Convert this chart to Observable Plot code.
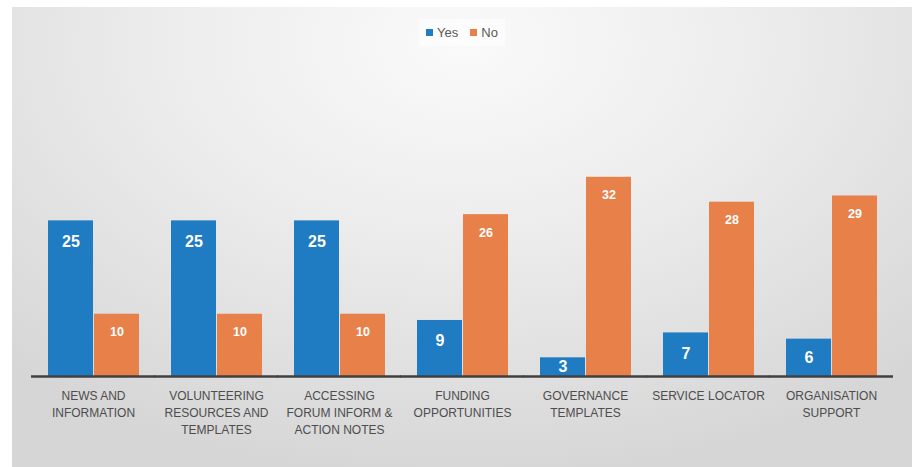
<!DOCTYPE html>
<html>
<head>
<meta charset="utf-8">
<script src="https://cdn.jsdelivr.net/npm/d3@7"></script>
<script src="https://cdn.jsdelivr.net/npm/@observablehq/plot@0.6"></script>
<style>
  html, body { margin: 0; padding: 0; background: #ffffff; }
  #page { position: relative; width: 924px; height: 467px; overflow: hidden; background: #ffffff; }
  #panel {
    position: absolute; left: 12px; top: 7px; width: 900px; height: 460px;
    background: radial-gradient(ellipse 75% 95% at 50% 8%, #fafafa 0%, #ececec 45%, #d6d6d6 100%);
  }
  #legend {
    height: 49px; display: flex; justify-content: center; align-items: flex-start;
    font-family: "Liberation Sans", Arial, sans-serif; font-size: 13px; color: #595959;
  }
  #legend .box {
    margin-top: 12px; padding: 6px 7px; background: rgba(255,255,255,0.55);
    display: flex; align-items: center; gap: 12px;
  }
  #legend .item { display: flex; align-items: center; gap: 4px; }
  #legend .sw { width: 7px; height: 7px; display: inline-block; }
  svg { display: block; }
</style>
</head>
<body>
<div id="page"><div id="panel"><div id="legend"></div><div id="chart"></div></div></div>
<script>
const categories = [
  "NEWS AND\nINFORMATION",
  "VOLUNTEERING\nRESOURCES AND\nTEMPLATES",
  "ACCESSING\nFORUM INFORM &\nACTION NOTES",
  "FUNDING\nOPPORTUNITIES",
  "GOVERNANCE\nTEMPLATES",
  "SERVICE LOCATOR",
  "ORGANISATION\nSUPPORT"
];
const series = ["Yes", "No"];
const yesValues = [25, 25, 25, 9, 3, 7, 6];
const noValues = [10, 10, 10, 26, 32, 28, 29];
const colors = ["#1f7bc2", "#e8804a"];

const data = [];
categories.forEach((c, i) => {
  data.push({category: c, series: "Yes", value: yesValues[i]});
  data.push({category: c, series: "No", value: noValues[i]});
});
const yesData = data.filter(d => d.series === "Yes");
const noData = data.filter(d => d.series === "No");

// legend
const legend = document.getElementById("legend");
const box = document.createElement("div");
box.className = "box";
series.forEach((s, i) => {
  const it = document.createElement("span");
  it.className = "item";
  const sw = document.createElement("span");
  sw.className = "sw";
  sw.style.background = colors[i];
  it.appendChild(sw);
  it.appendChild(document.createTextNode(s));
  box.appendChild(it);
});
legend.appendChild(box);

const chart = Plot.plot({
  width: 900,
  height: 411,
  marginLeft: 19.5,
  marginRight: 19.5,
  marginTop: 71,
  marginBottom: 91,
  style: {background: "transparent", fontFamily: "Liberation Sans, Arial, sans-serif"},
  fx: {domain: categories, paddingInner: 0.252, paddingOuter: 0.126, label: null},
  x: {domain: series, padding: 0, axis: null},
  y: {domain: [0, 40], axis: null},
  color: {domain: series, range: colors},
  marks: [
    Plot.axisFx({
      tickSize: 0, tickPadding: 12, fontSize: 12, lineHeight: 1.4,
      fill: "#4d4d4d", label: null, anchor: "bottom"
    }),
    Plot.barY(data, {fx: "category", x: "series", y: "value", fill: "series", insetLeft: 0.5, insetRight: 0.5}),
    Plot.text(yesData, {
      fx: "category", x: "series",
      y: d => Math.max(d.value - 3.3, d.value / 2),
      text: "value", fill: "white", fontWeight: "bold", fontSize: 16
    }),
    Plot.text(noData, {
      fx: "category", x: "series",
      y: d => Math.max(d.value - 2.9, d.value / 2),
      text: "value", fill: "white", fontWeight: "bold", fontSize: 12.5
    }),
    Plot.ruleY([0], {stroke: "#404040", strokeWidth: 2.5, insetLeft: -16, insetRight: -16})
  ]
});
document.getElementById("chart").appendChild(chart);
</script>
</body>
</html>
